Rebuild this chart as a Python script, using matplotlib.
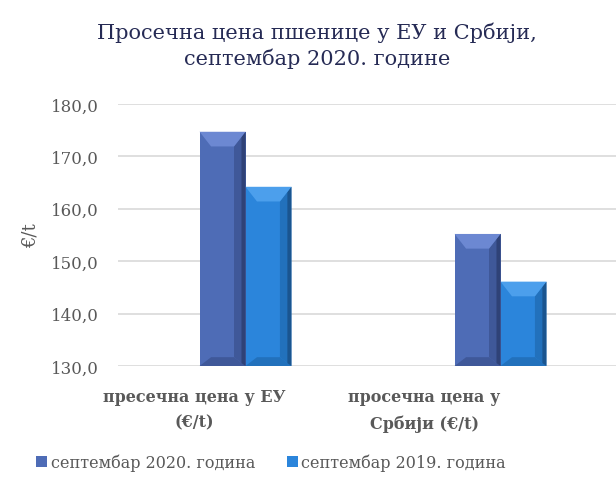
import numpy as np
import matplotlib.pyplot as plt
from matplotlib.patches import Polygon

categories = ['пресечна цена у ЕУ\n(€/t)', 'просечна цена у\nСрбији (€/t)']
series_names = ['септембар 2020. година', 'септембар 2019. година']
values_2020 = [174.7, 155.2]
values_2019 = [164.2, 146.1]

colors = ['#4E6CB6', '#2B85DB']
light = ['#6C88D2', '#4C9FEC']
dark = ['#2F4277', '#1A5590']
mid_dark = ['#3F5899', '#2271BC']

plt.rcParams['font.family'] = ['DejaVu Serif']

fig = plt.figure(figsize=(6.16, 4.89), dpi=100)
ax = fig.add_axes([118 / 616, 1 - 367 / 489, 510 / 616, 262 / 489])

x = np.arange(len(categories))
w = 0.18
bars = []
for k, vals in enumerate([values_2020, values_2019]):
    b = ax.bar(x + (k - 0.5) * w, [v - 130 for v in vals], w, bottom=130,
               color=colors[k], edgecolor='none', label=series_names[k], zorder=3)
    bars.append(b)

# bevel effect
bx = 0.045
by = 2.8
for k, b in enumerate(bars):
    for r in b.patches:
        x0, y0 = r.get_x(), r.get_y()
        x1, y1 = x0 + r.get_width(), y0 + r.get_height()
        top = [(x0, y1), (x1, y1), (x1 - bx, y1 - by), (x0 + bx, y1 - by)]
        right = [(x1, y1), (x1, y0), (x1 - bx, y0 + by * 0.6), (x1 - bx, y1 - by)]
        edge = [(x1, y1), (x1, y0), (x1 - bx * 0.35, y0 + by * 0.2), (x1 - bx * 0.35, y1 - by * 0.35)]
        bottom = [(x0, y0), (x1, y0), (x1 - bx, y0 + by * 0.6), (x0 + bx, y0 + by * 0.6)]
        ax.add_patch(Polygon(bottom, closed=True, color=mid_dark[k], lw=0, zorder=4))
        ax.add_patch(Polygon(right, closed=True, color=mid_dark[k], lw=0, zorder=4))
        ax.add_patch(Polygon(edge, closed=True, color=dark[k], lw=0, zorder=4))
        ax.add_patch(Polygon(top, closed=True, color=light[k], lw=0, zorder=4))

ax.set_xlim(-0.5, 1.5)
ax.set_ylim(130, 180)
ax.set_yticks(np.arange(130, 181, 10))
ax.set_yticklabels([f'{v:.1f}'.replace('.', ',') for v in np.arange(130, 181, 10)],
                   fontsize=12, color='#595959')
ax.set_xticks(x)
ax.set_xticklabels([])
ax.tick_params(length=0, pad=14, axis='y')
ax.tick_params(length=0, axis='x')
label_shift = [-0.2, -0.3]
for xi, lab, sh in zip(x, categories, label_shift):
    ax.text(xi + sh, -0.085, lab, transform=ax.get_xaxis_transform(), ha='center', va='top',
            fontsize=11.5, fontweight='bold', color='#595959', linespacing=1.65)
ax.grid(axis='y', color='#D9D9D9', lw=1.2, zorder=0)
for s in ax.spines.values():
    s.set_visible(False)
ax.set_ylabel('€/t', fontsize=13, color='#595959', labelpad=8)

fig.text(0.515, 0.955, 'Просечна цена пшенице у ЕУ и Србији,\nсептембар 2020. године',
         ha='center', va='top', fontsize=15, color='#262B55', linespacing=1.35)

leg = fig.legend(loc='center', bbox_to_anchor=(0.44, 1 - 463 / 489), ncol=2, frameon=False,
                 fontsize=11.5, handlelength=0.7, handleheight=0.7, handletextpad=0.2,
                 columnspacing=2.0)
for t in leg.get_texts():
    t.set_color('#595959')

fig.savefig('out.png', dpi=100)
